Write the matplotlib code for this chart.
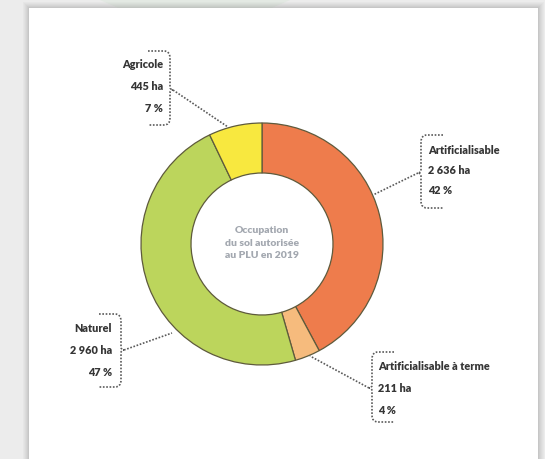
import numpy as np
import matplotlib.pyplot as plt
from matplotlib.patches import Rectangle, Polygon
from matplotlib.path import Path
from matplotlib.patches import PathPatch

# données
categories = ['Artificialisable', 'Artificialisable à terme', 'Naturel', 'Agricole']
surfaces = [2636, 211, 2960, 445]
surfaces_txt = ['2 636 ha', '211 ha', '2 960 ha', '445 ha']
pourcents = ['42 %', '4 %', '47 %', '7 %']
couleurs = ['#ee7c4c', '#f6bb7d', '#bcd55c', '#f8e83f']
titre_centre = 'Occupation\ndu sol autorisée\nau PLU en 2019'

W, H = 545, 459

def Y(py):
    # coordonnées pixel (origine en haut) -> données
    return H - py

fig = plt.figure(figsize=(W / 100, H / 100), dpi=100)
fig.patch.set_facecolor('#ececec')
ax = fig.add_axes([0, 0, 1, 1])

# fond : carte blanche avec ombre
ax.add_patch(Polygon([(100, Y(0)), (290, Y(0)), (270, Y(9)), (120, Y(9))],
                     closed=True, facecolor='#e3e9e3', edgecolor='none', zorder=0))
for i, a in enumerate([0.05, 0.05, 0.06, 0.07, 0.08, 0.1]):
    d = 6 - i
    ax.add_patch(Rectangle((29 - d, -10), 509 + 2 * d, Y(8) + 10 + d,
                           facecolor='#888888', alpha=a, edgecolor='none', zorder=0))
ax.add_patch(Rectangle((29, -10), 509, Y(8) + 10, facecolor='white',
                       edgecolor='none', zorder=1))

# anneau
cx, cy, r_ext, r_int = 262, 244, 121, 71
ax.pie(surfaces, colors=couleurs, startangle=90, counterclock=False,
       radius=r_ext, center=(cx, Y(cy)),
       wedgeprops=dict(width=r_ext - r_int, edgecolor='#5e5a3c', linewidth=0.9))
for w in ax.patches[-4:]:
    w.set_zorder(3)

ax.text(cx, Y(243), titre_centre, ha='center', va='center', fontsize=7.5,
        fontweight='heavy', color='#a3a8b0', linespacing=1.5,
        family='Lato', zorder=4)


def accolade(x, top, bot, mid, sens):
    # sens = +1 : pointe vers la droite (texte à gauche), -1 : vers la gauche
    s = sens
    verts = [(x - s * 22, Y(top)), (x - s * 6, Y(top)),
             (x, Y(top)), (x, Y(top + 7)),
             (x, Y(mid - 3)), (x, Y(mid)), (x + s * 3, Y(mid)),
             (x, Y(mid)), (x, Y(mid + 3)),
             (x, Y(bot - 7)), (x, Y(bot)), (x - s * 6, Y(bot)),
             (x - s * 22, Y(bot))]
    codes = [Path.MOVETO, Path.LINETO,
             Path.CURVE3, Path.CURVE3,
             Path.LINETO, Path.CURVE3, Path.CURVE3,
             Path.CURVE3, Path.CURVE3,
             Path.LINETO, Path.CURVE3, Path.CURVE3,
             Path.LINETO]
    ax.add_patch(PathPatch(Path(verts, codes), facecolor='none',
                           edgecolor='#5a5a5a', linewidth=1.2,
                           linestyle=(0, (1, 1)), zorder=5))


# étiquettes : (x texte, y lignes, alignement, accolade x, haut, bas, pointe, fin du trait)
etiquettes = [
    (428, [150, 171, 191], 'left', 421, 135, 208, 173, (373, 195)),
    (378, [366, 388, 410], 'left', 372, 352, 422, 388, (310, 356)),
    (112, [329, 351, 372], 'right', 121, 314, 387, 350, (172, 333)),
    (163, [65, 87, 108], 'right', 170, 51, 125, 90, (228, 127)),
]

for i, (tx, ys, ha, bx, top, bot, mid, fin) in enumerate(etiquettes):
    lignes = [categories[i], surfaces_txt[i], pourcents[i]]
    for txt, yy in zip(lignes, ys):
        ax.text(tx, Y(yy), txt, ha=ha, va='center', fontsize=7.8,
                fontweight='heavy', color='#363636', family='Lato', zorder=6)
    sens = 1 if ha == 'right' else -1
    accolade(bx, top, bot, mid, sens)
    ax.plot([bx + sens * 3, fin[0]], [Y(mid), Y(fin[1])], color='#5a5a5a',
            linewidth=1.2, linestyle=(0, (1, 1)), zorder=5)

ax.set_xlim(0, W)
ax.set_ylim(0, H)
ax.set_aspect('auto')
ax.axis('off')

fig.savefig('out.png', dpi=100, facecolor=fig.get_facecolor())
